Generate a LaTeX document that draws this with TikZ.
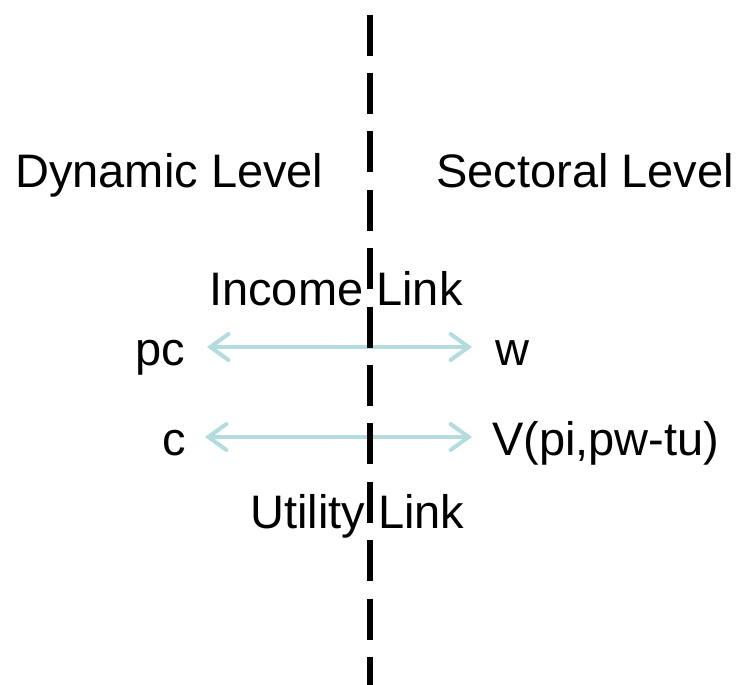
\documentclass[tikz,border=0pt]{standalone}
\usepackage{fontspec}
\setmainfont{Liberation Sans}
\usetikzlibrary{arrows.meta}
\definecolor{linkteal}{RGB}{178,220,222}
\tikzset{
  lbl/.style={anchor=base west, inner sep=0pt, font=\fontsize{47}{50}\selectfont},
  linkarrow/.style={draw=linkteal, line width=4pt,
    arrows={Straight Barb[length=18pt,width=26pt,line width=4pt,line cap=round]-Straight Barb[length=18pt,width=26pt,line width=4pt,line cap=round]}},
  divider/.style={draw=black, line width=5.5pt, dash pattern=on 41pt off 17.4pt}
}
\begin{document}
\begin{tikzpicture}[x=1pt,y=1pt]
\useasboundingbox (0,0) rectangle (742,-685);
\node[lbl] (dyn) at (15,-187) {Dynamic Level};
\node[lbl] (sec) at (436,-187) {Sectoral Level};
\node[lbl] (inc) at (209,-305) {Income Link};
\node[lbl] (pc) at (135,-365) {pc};
\node[lbl] (w) at (495,-365) {w};
\node[lbl] (c) at (162,-455) {c};
\node[lbl] (V) at (492,-455) {V(pi,pw-tu)};
\node[lbl] (util) at (250,-528) {Utility Link};
\coordinate (pcL) at (207,-347);
\coordinate (wR) at (472,-347);
\coordinate (cL) at (205,-437);
\coordinate (VR) at (472,-437);
\draw[linkarrow] (pcL) -- (wR);
\draw[linkarrow] (cL) -- (VR);
\coordinate (divtop) at (370,-14.6);
\coordinate (divbot) at (370,-690);
\draw[divider] (divtop) -- (divbot);
\end{tikzpicture}
\end{document}
